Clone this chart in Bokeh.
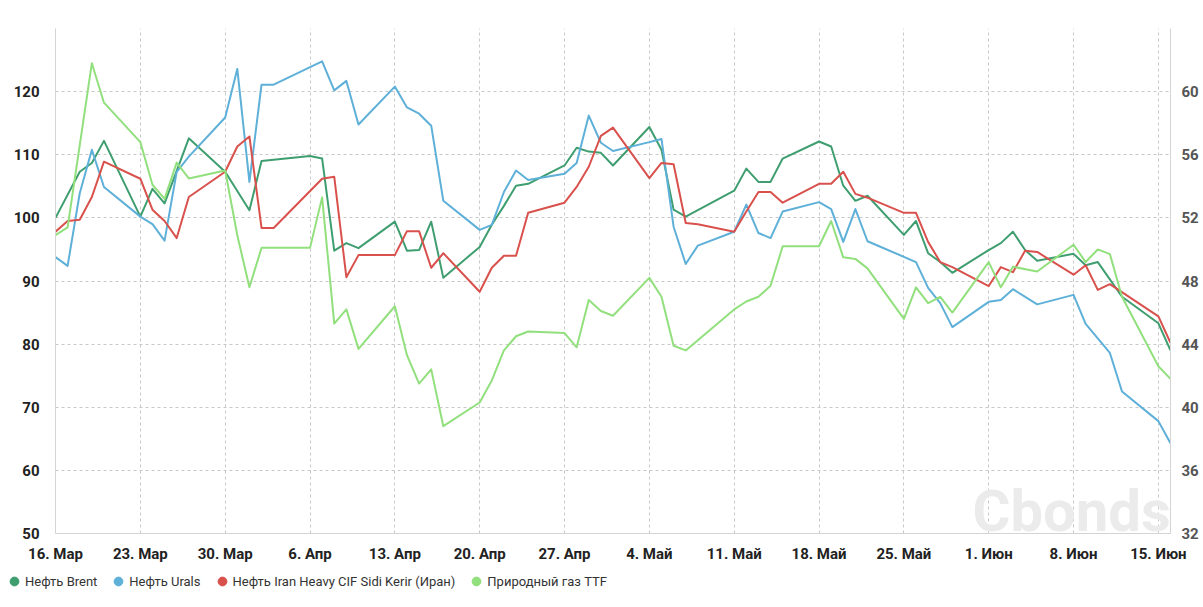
import pandas as pd
from bokeh.plotting import figure
from bokeh.layouts import column, row
from bokeh.models import Range1d, LinearAxis, FixedTicker, Legend, LegendItem, Label
from bokeh.embed import file_html
from bokeh.resources import INLINE

YEAR = "2026-"

brent_dates = ["03-16", "03-18", "03-19", "03-20", "03-23", "03-24", "03-25", "03-27", "03-30", "04-01",
               "04-02", "04-06", "04-07", "04-08", "04-09", "04-10", "04-13", "04-14", "04-15", "04-16",
               "04-17", "04-20", "04-21", "04-22", "04-23", "04-24", "04-27", "04-28", "04-29", "04-30",
               "05-01", "05-04", "05-05", "05-06", "05-07", "05-11", "05-12", "05-13", "05-14", "05-15",
               "05-18", "05-19", "05-20", "05-21", "05-22", "05-25", "05-26", "05-27", "05-28", "05-29",
               "06-01", "06-02", "06-03", "06-04", "06-05", "06-08", "06-09", "06-10", "06-12", "06-15",
               "06-16"]
brent_vals = [100.0, 107.3, 108.7, 112.2, 100.2, 104.6, 102.3, 112.6, 107.3, 101.2,
              109.0, 109.8, 109.4, 94.8, 96.0, 95.2, 99.4, 94.8, 94.9, 99.4,
              90.5, 95.4, 98.9, 101.9, 105.1, 105.4, 108.3, 111.1, 110.5, 110.3,
              108.3, 114.4, 110.8, 101.3, 100.2, 104.3, 107.8, 105.7, 105.7, 109.4,
              112.1, 111.3, 105.1, 102.7, 103.5, 97.3, 99.5, 94.4, 93.0, 91.3,
              94.9, 96.0, 97.8, 94.9, 93.2, 94.3, 92.5, 93.0, 87.5, 83.3,
              79.0]

urals_dates = ["03-16", "03-17", "03-18", "03-19", "03-20", "03-23", "03-24", "03-25", "03-26", "03-27",
               "03-30", "03-31", "04-01", "04-02", "04-03", "04-07", "04-08", "04-09", "04-10", "04-13",
               "04-14", "04-15", "04-16", "04-17", "04-20", "04-21", "04-22", "04-23", "04-24", "04-27",
               "04-28", "04-29", "04-30", "05-01", "05-04", "05-05", "05-06", "05-07", "05-08", "05-11",
               "05-12", "05-13", "05-14", "05-15", "05-18", "05-19", "05-20", "05-21", "05-22", "05-26",
               "05-27", "05-28", "05-29", "06-01", "06-02", "06-03", "06-05", "06-08", "06-09", "06-11",
               "06-12", "06-15", "06-16"]
urals_vals = [93.8, 92.4, 103.9, 110.8, 104.9, 100.2, 99.0, 96.4, 107.3, 109.7,
              115.9, 123.6, 105.7, 121.1, 121.1, 124.8, 120.2, 121.7, 114.8, 120.8,
              117.5, 116.5, 114.6, 102.7, 98.1, 98.9, 104.1, 107.5, 106.0, 107.0,
              108.7, 116.2, 111.9, 110.6, 112.0, 112.5, 98.6, 92.7, 95.6, 97.8,
              102.1, 97.6, 96.8, 101.0, 102.5, 101.4, 96.2, 101.4, 96.3, 93.0,
              88.9, 86.5, 82.7, 86.7, 87.0, 88.7, 86.3, 87.8, 83.2, 78.6,
              72.5, 67.8, 64.3]

iran_dates = ["03-16", "03-17", "03-18", "03-19", "03-20", "03-23", "03-24", "03-25", "03-26", "03-27",
              "03-30", "03-31", "04-01", "04-02", "04-03", "04-07", "04-08", "04-09", "04-10", "04-13",
              "04-14", "04-15", "04-16", "04-17", "04-20", "04-21", "04-22", "04-23", "04-24", "04-27",
              "04-28", "04-29", "04-30", "05-01", "05-04", "05-05", "05-06", "05-07", "05-08", "05-11",
              "05-12", "05-13", "05-14", "05-15", "05-18", "05-19", "05-20", "05-21", "05-22", "05-25",
              "05-26", "05-27", "05-28", "05-29", "06-01", "06-02", "06-03", "06-04", "06-05", "06-08",
              "06-09", "06-10", "06-11", "06-15", "06-16"]
iran_vals = [97.8, 99.5, 99.7, 103.3, 108.9, 106.2, 101.3, 99.5, 96.8, 103.3,
             107.3, 111.3, 112.9, 98.4, 98.4, 106.2, 106.5, 90.6, 94.1, 94.1,
             97.9, 97.9, 92.1, 94.4, 88.3, 92.1, 94.0, 94.0, 100.8, 102.4,
             104.9, 108.1, 113.0, 114.3, 106.3, 108.7, 108.5, 99.2, 99.0, 97.8,
             101.0, 104.1, 104.1, 102.4, 105.4, 105.4, 107.3, 103.8, 103.2, 100.8,
             100.8, 96.2, 93.0, 92.2, 89.2, 92.2, 91.4, 94.8, 94.6, 91.0,
             92.5, 88.6, 89.5, 84.4, 80.2]

ttf_dates = ["03-16", "03-17", "03-19", "03-20", "03-23", "03-24", "03-25", "03-26", "03-27", "03-30",
             "03-31", "04-01", "04-02", "04-06", "04-07", "04-08", "04-09", "04-10", "04-13", "04-14",
             "04-15", "04-16", "04-17", "04-20", "04-21", "04-22", "04-23", "04-24", "04-27", "04-28",
             "04-29", "04-30", "05-01", "05-04", "05-05", "05-06", "05-07", "05-11", "05-12", "05-13",
             "05-14", "05-15", "05-18", "05-19", "05-20", "05-21", "05-22", "05-25", "05-26", "05-27",
             "05-28", "05-29", "06-01", "06-02", "06-03", "06-05", "06-08", "06-09", "06-10", "06-11",
             "06-12", "06-15", "06-16"]
ttf_vals = [50.9, 51.4, 61.8, 59.3, 56.8, 54.1, 53.2, 55.5, 54.5, 55.0,
            50.9, 47.6, 50.1, 50.1, 53.3, 45.3, 46.2, 43.7, 46.4, 43.3,
            41.5, 42.4, 38.8, 40.3, 41.7, 43.6, 44.5, 44.8, 44.7, 43.8,
            46.8, 46.1, 45.8, 48.2, 47.0, 43.9, 43.6, 46.2, 46.7, 47.0,
            47.7, 50.2, 50.2, 51.8, 49.5, 49.4, 48.8, 45.6, 47.6, 46.6,
            47.0, 46.0, 49.2, 47.6, 48.9, 48.6, 50.3, 49.2, 50.0, 49.7,
            47.0, 42.6, 41.8]

tick_dates = ["03-16", "03-23", "03-30", "04-06", "04-13", "04-20", "04-27",
              "05-04", "05-11", "05-18", "05-25", "06-01", "06-08", "06-15"]
tick_labels = ["16. Мар", "23. Мар", "30. Мар", "6. Апр", "13. Апр", "20. Апр", "27. Апр",
               "4. Май", "11. Май", "18. Май", "25. Май", "1. Июн", "8. Июн", "15. Июн"]
left_ticks = [50, 60, 70, 80, 90, 100, 110, 120, 130]
right_ticks = [32, 36, 40, 44, 48, 52, 56, 60, 64]

names = ["Нефть Brent", "Нефть Urals", "Нефть Iran Heavy CIF Sidi Kerir (Иран)", "Природный газ TTF"]
colors = ["#3f9e6f", "#5eb0d8", "#d9514c", "#92e07d"]


def to_dt(lst):
    return pd.to_datetime([YEAR + d for d in lst])


def ms(d):
    return float(pd.Timestamp(YEAR + d).value // 10**6)


FONT = "Roboto"

p = figure(width=1203, height=565, x_axis_type="datetime", output_backend="svg",
           toolbar_location=None, min_border_left=55, min_border_right=33,
           min_border_top=28, min_border_bottom=32,
           x_range=Range1d(pd.Timestamp(YEAR + "03-16"), pd.Timestamp(YEAR + "06-16")),
           y_range=Range1d(50, 130))
p.extra_y_ranges = {"right": Range1d(32, 64)}
p.outline_line_color = None
p.background_fill_color = "white"
p.border_fill_color = "white"

# x axis
p.xaxis.ticker = FixedTicker(ticks=[ms(d) for d in tick_dates])
p.xaxis.major_label_overrides = {ms(d): t for d, t in zip(tick_dates, tick_labels)}
p.xaxis.major_tick_line_color = None
p.xaxis.minor_tick_line_color = None
p.xaxis.axis_line_color = "#d4d4d4"
p.xaxis.major_label_standoff = 5
p.xaxis.major_label_text_font = FONT
p.xaxis.major_label_text_font_style = "bold"
p.xaxis.major_label_text_font_size = "15px"
p.xaxis.major_label_text_color = "#222222"

# left axis
p.yaxis.ticker = FixedTicker(ticks=left_ticks)
p.yaxis.major_label_overrides = {130: ""}
p.yaxis.major_tick_line_color = None
p.yaxis.minor_tick_line_color = None
p.yaxis.axis_line_color = "#d4d4d4"
p.yaxis.major_label_standoff = 10
p.yaxis.major_label_text_font = FONT
p.yaxis.major_label_text_font_style = "bold"
p.yaxis.major_label_text_font_size = "15px"
p.yaxis.major_label_text_color = "#222222"

# right axis
ra = LinearAxis(y_range_name="right", ticker=FixedTicker(ticks=right_ticks))
ra.major_label_overrides = {64: ""}
ra.major_tick_line_color = None
ra.minor_tick_line_color = None
ra.axis_line_color = "#d4d4d4"
ra.major_label_standoff = 5
ra.major_label_text_font = FONT
ra.major_label_text_font_style = "bold"
ra.major_label_text_font_size = "15px"
ra.major_label_text_color = "#555555"
p.add_layout(ra, "right")

for g in (p.xgrid, p.ygrid):
    g.grid_line_color = "#c8c8c8"
    g.grid_line_dash = "3 3"
    g.grid_line_width = 1

# watermark
p.add_layout(Label(x=pd.Timestamp(YEAR + "05-30 16:00"), y=53.6, text="Cbonds",
                   text_font=FONT, text_font_style="bold", text_font_size="58px",
                   text_color="#ebebeb", text_baseline="middle", level="underlay"))

series = [
    (brent_dates, brent_vals, "default"),
    (urals_dates, urals_vals, "default"),
    (iran_dates, iran_vals, "default"),
    (ttf_dates, ttf_vals, "right"),
]
for (dts, vals, rng), c in zip(series, colors):
    p.line(to_dt(dts), vals, line_color=c, line_width=2, line_join="round", y_range_name=rng)

# legend strip
lp = figure(width=1203, height=42, output_backend="svg", toolbar_location=None,
            min_border=0, x_axis_location=None, y_axis_location=None,
            x_range=Range1d(0, 1), y_range=Range1d(0, 1))
lp.grid.visible = False
lp.outline_line_color = None
lp.border_fill_color = "white"
dots = [lp.scatter(x=[-10], y=[-10], marker="circle", fill_color=c, line_color=c) for c in colors]
legend = Legend(items=[LegendItem(label=n, renderers=[r]) for n, r in zip(names, dots)],
                location=(3, 14), orientation="horizontal",
                glyph_width=22, glyph_height=24, label_standoff=0, spacing=10,
                padding=0, margin=0, border_line_color=None, background_fill_alpha=0,
                label_text_font=FONT, label_text_font_size="13px", label_text_color="#333333")
lp.add_layout(legend, "center")

open("out.html", "w").write(file_html(column(p, row(lp)), INLINE))
